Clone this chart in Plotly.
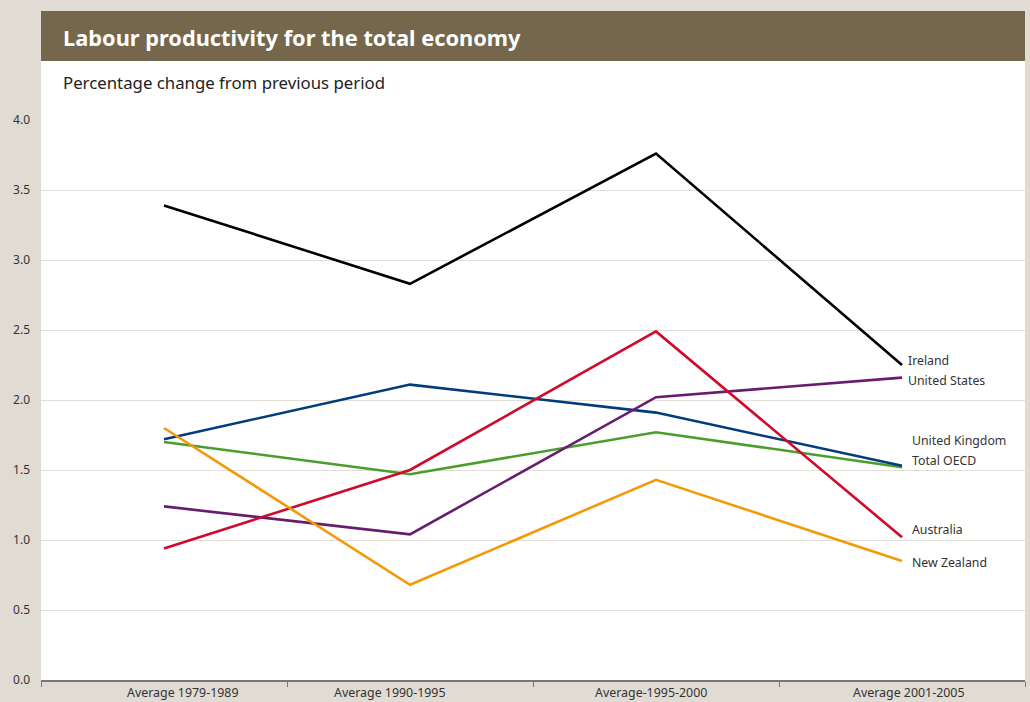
import plotly.graph_objects as go

categories = ["Average 1979-1989", "Average 1990-1995", "Average-1995-2000", "Average 2001-2005"]
series_names = ["Total OECD", "United Kingdom", "United States", "Australia", "New Zealand", "Ireland"]
total_oecd = [1.70, 1.47, 1.77, 1.52]
united_kingdom = [1.72, 2.11, 1.91, 1.53]
united_states = [1.24, 1.04, 2.02, 2.16]
australia = [0.94, 1.50, 2.49, 1.02]
new_zealand = [1.80, 0.68, 1.43, 0.85]
ireland = [3.39, 2.83, 3.76, 2.25]
y_ticks = [0.0, 0.5, 1.0, 1.5, 2.0, 2.5, 3.0, 3.5, 4.0]

values = [total_oecd, united_kingdom, united_states, australia, new_zealand, ireland]
colors = ["#4a9e2c", "#003d7a", "#691c6f", "#cf0a2c", "#f39a0a", "#000000"]
label_shift = {"Total OECD": (8, 7), "United Kingdom": (8, 25), "United States": (4, -3),
               "Australia": (8, 8), "New Zealand": (8, -1), "Ireland": (4, 5)}
cat_label_xshift = [19, -20, -5, 7]

FONT = "Noto Sans"
fig = go.Figure()
for name, vals, col in zip(series_names, values, colors):
    fig.add_trace(go.Scatter(x=categories, y=vals, mode="lines", name=name,
                             line=dict(color=col, width=2.6), showlegend=False))
    dx, dy = label_shift[name]
    fig.add_annotation(x=categories[-1], y=vals[-1], text=name, showarrow=False,
                       xanchor="left", yanchor="middle", xshift=dx, yshift=dy,
                       font=dict(family=FONT, size=12.3, color="#333333"))

# category labels (slightly offset from the points as in the original)
for cat, sx in zip(categories, cat_label_xshift):
    fig.add_annotation(x=cat, xref="x", yref="paper", y=0, yshift=-12, xshift=sx,
                       text=cat, showarrow=False, xanchor="center", yanchor="middle",
                       font=dict(family=FONT, size=12.4, color="#333333"))

fig.update_layout(
    width=1030, height=702,
    paper_bgcolor="#e0dcd4", plot_bgcolor="#ffffff",
    margin=dict(l=41, r=5, t=120, b=22),
    xaxis=dict(type="category", range=[-0.5, 3.5], showgrid=False, showline=True,
               linecolor="#777777", linewidth=1.5, ticks="outside", tickson="boundaries",
               ticklen=5, tickcolor="#777777", showticklabels=False, fixedrange=True),
    yaxis=dict(range=[0, 4.0], tickvals=y_ticks, ticktext=[f"{v:.1f}" for v in y_ticks],
               showgrid=True, gridcolor="#e2ded6", gridwidth=1.2, zeroline=False,
               showline=False, ticks="", ticklabelstandoff=10, fixedrange=True,
               tickfont=dict(family=FONT, size=12, color="#333333")),
)

# white panel above plot area + brown title bar (in pixel-ish paper coords)
B, T = 22, 120
H_plot = 702 - T - B
def py(pix):
    return (702 - B - pix) / H_plot
fig.add_shape(type="rect", xref="paper", yref="paper", x0=0, x1=1, y0=py(T), y1=py(11),
              fillcolor="#ffffff", line=dict(width=0), layer="below")
fig.add_shape(type="rect", xref="paper", yref="paper", x0=0, x1=1, y0=py(61), y1=py(11),
              fillcolor="#75674b", line=dict(width=0), layer="below")
fig.add_annotation(xref="paper", yref="paper", x=0, y=py(37), xshift=20,
                   text="<b>Labour productivity for the total economy</b>", showarrow=False,
                   xanchor="left", yanchor="middle",
                   font=dict(family=FONT, size=21.8, color="#ffffff"))
fig.add_annotation(xref="paper", yref="paper", x=0, y=py(82), xshift=20,
                   text="Percentage change from previous period", showarrow=False,
                   xanchor="left", yanchor="middle",
                   font=dict(family=FONT, size=16.8, color="#222222"))

fig.write_html("out.html", config={"displayModeBar": False},
               post_script="document.body.style.margin='0';document.body.style.background='#e0dcd4';")
